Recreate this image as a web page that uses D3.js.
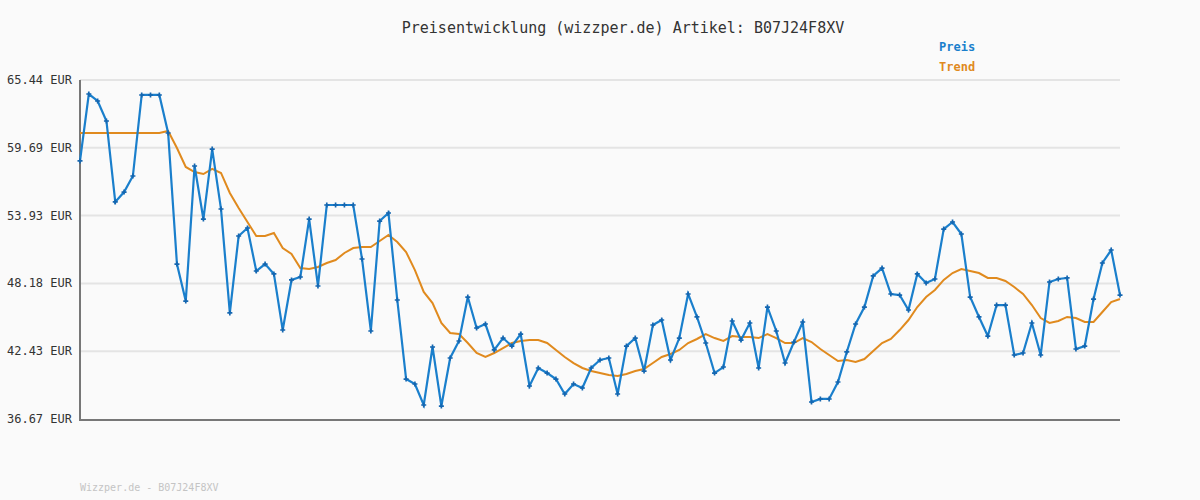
<!DOCTYPE html>
<html><head><meta charset="utf-8">
<script src="https://cdn.jsdelivr.net/npm/d3@7"></script>
<style>body{margin:0;background:#fafafa}</style>
</head><body><svg id="chart" width="1200" height="500"></svg>
<script>
// price history
var preisA = [58.57,64.25,63.66,61.96,55.09,55.93,57.29,64.17,64.17,64.17,60.94,49.82,46.68,58.14,53.64,59.58,54.49,45.67,52.20,52.88,49.23,49.82,48.98,44.22,48.47,48.72,53.64,47.96,54.83,54.83,54.83,54.83,50.25,44.14,53.47,54.15,46.77,40.06,39.64,37.86]
var preisB = [42.78,37.77,41.85,43.29,47.02,44.39,44.73,42.53,43.54,42.86,43.88,39.47,41.00,40.57,40.06,38.79,39.64,39.30,41.00,41.68,41.85,38.79,42.86,43.54,40.74,44.65,45.07,41.68,43.54,47.28,45.33,43.12,40.57,41.08,44.99,43.37,44.82,41.00,46.17,44.14]
var preisC = [41.42,43.20,44.90,38.11,38.37,38.37,39.81,42.36,44.73,46.17,48.81,49.48,47.28,47.19,45.92,48.98,48.21,48.55,52.79,53.39,52.37,47.02,45.33,43.71,46.34,46.34,42.10,42.27,44.82,42.10,48.30,48.55,48.64,42.61,42.86,46.85,49.91,51.01,47.19]
var trendA = [60.94,60.94,60.94,60.94,60.94,60.94,60.94,60.94,60.94,60.94,61.11,59.67,58.06,57.63,57.46,57.89,57.55,55.85,54.58,53.39,52.20,52.20,52.46,51.18,50.67,49.48,49.40,49.57,49.91,50.16,50.76,51.18,51.27,51.27,51.78,52.29,51.69,50.84,49.31,47.45]
var trendB = [46.51,44.82,43.97,43.88,43.12,42.27,41.93,42.27,42.69,43.12,43.29,43.37,43.37,43.12,42.53,41.93,41.42,41.00,40.74,40.57,40.40,40.32,40.49,40.74,40.91,41.42,41.93,42.19,42.53,43.12,43.46,43.88,43.54,43.29,43.71,43.63,43.63,43.54,43.88,43.54]
var trendC = [43.12,43.12,43.54,43.20,42.61,42.10,41.59,41.68,41.51,41.76,42.44,43.12,43.46,44.22,45.07,46.17,47.02,47.62,48.47,49.06,49.40,49.23,49.06,48.64,48.64,48.38,47.87,47.28,46.34,45.24,44.82,44.99,45.33,45.24,44.90,44.90,45.75,46.60,46.85]
var yTicks = [36.67,42.43,48.18,53.93,59.69,65.44]

var preis = preisA.concat(preisB, preisC)
var trend = trendA.concat(trendB, trendC)

var svg = d3.select('#chart')
var x = d3.scaleLinear().domain([0, preis.length-1]).range([80, 1120])
var y = d3.scaleLinear().domain([36.67, 65.44]).range([419, 80])
var mono = 'DejaVu Sans Mono, monospace'

// grid
svg.append('g').selectAll('line').data(yTicks.slice(1)).join('line')
  .attr('x1', 80).attr('x2', 1120)
  .attr('y1', d => y(d)).attr('y2', d => y(d))
  .attr('stroke', '#e4e4e4').attr('stroke-width', 2)

svg.append('g').selectAll('text').data(yTicks).join('text')
  .attr('x', 72).attr('y', d => y(d)+4)
  .attr('text-anchor', 'end')
  .style('font-family', mono).style('font-size', '12px').style('fill', '#333')
  .text(d => d.toFixed(2) + ' EUR')

svg.append('line').attr('x1', 80).attr('x2', 80).attr('y1', 80).attr('y2', 420)
  .attr('stroke', '#777').attr('stroke-width', 2)
svg.append('line').attr('x1', 79).attr('x2', 1120).attr('y1', 420).attr('y2', 420)
  .attr('stroke', '#777').attr('stroke-width', 2)

var line = d3.line().x((d, i) => x(i)).y(d => y(d))

svg.append('path').datum(trend).attr('d', line)
  .attr('fill', 'none').attr('stroke', '#e08a1e').attr('stroke-width', 2)

svg.append('path').datum(preis).attr('d', line)
  .attr('fill', 'none').attr('stroke', '#1a7fcc').attr('stroke-width', 2.2)

svg.append('g').selectAll('path').data(preis).join('path')
  .attr('transform', (d, i) => 'translate(' + x(i) + ',' + y(d) + ')')
  .attr('d', d3.symbol(d3.symbolCross, 14))
  .attr('fill', '#1466b0')

svg.append('text').attr('x', 623).attr('y', 33).attr('text-anchor', 'middle')
  .style('font-family', mono).style('font-size', '15px').style('fill', '#333')
  .text('Preisentwicklung (wizzper.de) Artikel: B07J24F8XV')

svg.append('text').attr('x', 939).attr('y', 51)
  .style('font-family', mono).style('font-size', '12px').style('font-weight', 'bold').style('fill', '#1a7fcc')
  .text('Preis')
svg.append('text').attr('x', 939).attr('y', 71)
  .style('font-family', mono).style('font-size', '12px').style('font-weight', 'bold').style('fill', '#e08a1e')
  .text('Trend')

svg.append('text').attr('x', 80).attr('y', 491)
  .style('font-family', mono).style('font-size', '10px').style('fill', '#c4c4c4')
  .text('Wizzper.de - B07J24F8XV')
</script>
</body></html>
